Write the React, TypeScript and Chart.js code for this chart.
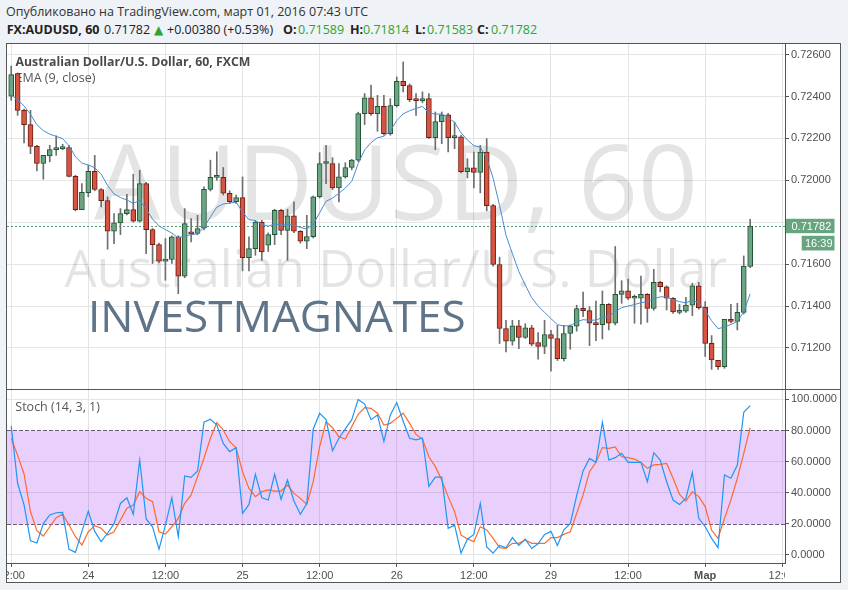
import React, { useEffect, useRef } from 'react';
import { Chart, registerables } from 'chart.js';
Chart.register(...registerables);

// ---- data (hourly bars, index 0 = 23 Feb 12:00, weekend compressed) ----
const OPEN = [
  0.72402, 0.72509, 0.72334, 0.72266, 0.72162, 0.72080, 0.72116, 0.72146, 0.72151, 0.72156,
  0.72019, 0.71860, 0.71941, 0.72043, 0.71956, 0.71903, 0.71757, 0.71797, 0.71841, 0.71860,
  0.71805, 0.71984, 0.71765, 0.71693, 0.71614, 0.71622, 0.71730, 0.71542, 0.71749, 0.71746,
  0.71771, 0.71957, 0.72014, 0.72014, 0.71938, 0.71898, 0.71917, 0.71631, 0.71674, 0.71801,
  0.71690, 0.71741, 0.71857, 0.71761, 0.71831, 0.71757, 0.71709, 0.71731, 0.71921, 0.72080,
  0.72080, 0.71964, 0.72016, 0.72061, 0.72096, 0.72318, 0.72394, 0.72318, 0.72353, 0.72223,
  0.72356, 0.72472, 0.72452, 0.72385, 0.72380, 0.72390, 0.72204, 0.72280, 0.72313, 0.72204,
  0.72208, 0.72041, 0.72060, 0.72037, 0.72135, 0.71879, 0.71598, 0.71293, 0.71232, 0.71305,
  0.71250, 0.71296, 0.71226, 0.71207, 0.71264, 0.71245, 0.71149, 0.71269, 0.71304, 0.71389,
  0.71378, 0.71318, 0.71311, 0.71408, 0.71318, 0.71456, 0.71472, 0.71437, 0.71437, 0.71456,
  0.71389, 0.71513, 0.71492, 0.71437, 0.71370, 0.71375, 0.71404, 0.71496, 0.71395, 0.71222,
  0.71141, 0.71111, 0.71337, 0.71326, 0.71370, 0.71589,
];
const HIGH = [
  0.72545, 0.72512, 0.72340, 0.72334, 0.72167, 0.72119, 0.72167, 0.72212, 0.72172, 0.72167,
  0.72024, 0.71984, 0.72072, 0.72119, 0.71960, 0.71921, 0.71841, 0.71865, 0.71933, 0.72029,
  0.72048, 0.71990, 0.71770, 0.71700, 0.71722, 0.71735, 0.71735, 0.71865, 0.71817, 0.71833,
  0.71969, 0.72096, 0.72136, 0.72061, 0.71950, 0.71930, 0.72016, 0.71730, 0.71809, 0.71809,
  0.71749, 0.71862, 0.71862, 0.71862, 0.71897, 0.71760, 0.71833, 0.71925, 0.72132, 0.72167,
  0.72108, 0.72080, 0.72084, 0.72100, 0.72325, 0.72414, 0.72454, 0.72405, 0.72405, 0.72390,
  0.72493, 0.72565, 0.72460, 0.72414, 0.72422, 0.72414, 0.72326, 0.72326, 0.72320, 0.72278,
  0.72215, 0.72103, 0.72135, 0.72167, 0.72199, 0.71885, 0.71633, 0.71332, 0.71332, 0.71332,
  0.71316, 0.71308, 0.71273, 0.71332, 0.71284, 0.71308, 0.71308, 0.71310, 0.71404, 0.71466,
  0.71397, 0.71424, 0.71472, 0.71412, 0.71684, 0.71521, 0.71529, 0.71453, 0.71543, 0.71460,
  0.71575, 0.71518, 0.71497, 0.71440, 0.71408, 0.71441, 0.71509, 0.71513, 0.71421, 0.71259,
  0.71141, 0.71337, 0.71408, 0.71413, 0.71639, 0.71814,
];
const LOW = [
  0.72382, 0.72310, 0.72178, 0.72127, 0.72045, 0.72005, 0.72088, 0.72119, 0.72146, 0.72016,
  0.71854, 0.71860, 0.71921, 0.71950, 0.71873, 0.71671, 0.71698, 0.71741, 0.71835, 0.71800,
  0.71800, 0.71650, 0.71603, 0.71606, 0.71523, 0.71603, 0.71459, 0.71535, 0.71706, 0.71740,
  0.71763, 0.71949, 0.72000, 0.71930, 0.71890, 0.71890, 0.71568, 0.71568, 0.71642, 0.71618,
  0.71660, 0.71693, 0.71740, 0.71618, 0.71750, 0.71700, 0.71674, 0.71725, 0.71915, 0.71984,
  0.71955, 0.71897, 0.72010, 0.72050, 0.72090, 0.72266, 0.72310, 0.72234, 0.72215, 0.72215,
  0.72350, 0.72422, 0.72375, 0.72310, 0.72370, 0.72200, 0.72146, 0.72175, 0.72135, 0.72151,
  0.72035, 0.72011, 0.71964, 0.71940, 0.71854, 0.71590, 0.71221, 0.71181, 0.71213, 0.71197,
  0.71245, 0.71210, 0.71146, 0.71173, 0.71089, 0.71140, 0.71138, 0.71194, 0.71280, 0.71349,
  0.71211, 0.71235, 0.71243, 0.71286, 0.71310, 0.71413, 0.71430, 0.71318, 0.71313, 0.71322,
  0.71380, 0.71468, 0.71381, 0.71365, 0.71362, 0.71370, 0.71354, 0.71385, 0.71159, 0.71098,
  0.71098, 0.71103, 0.71320, 0.71286, 0.71362, 0.71583,
];
const CLOSE = [
  0.72504, 0.72334, 0.72266, 0.72162, 0.72080, 0.72119, 0.72146, 0.72151, 0.72156, 0.72019,
  0.71860, 0.71943, 0.72043, 0.71956, 0.71903, 0.71757, 0.71797, 0.71841, 0.71860, 0.71805,
  0.71984, 0.71765, 0.71693, 0.71614, 0.71622, 0.71730, 0.71542, 0.71793, 0.71744, 0.71770,
  0.71957, 0.72014, 0.72016, 0.71938, 0.71898, 0.71917, 0.71631, 0.71674, 0.71801, 0.71658,
  0.71741, 0.71857, 0.71761, 0.71831, 0.71757, 0.71709, 0.71731, 0.71921, 0.72080, 0.72082,
  0.71964, 0.72016, 0.72061, 0.72096, 0.72318, 0.72394, 0.72318, 0.72353, 0.72223, 0.72356,
  0.72472, 0.72452, 0.72385, 0.72380, 0.72390, 0.72204, 0.72280, 0.72313, 0.72204, 0.72208,
  0.72041, 0.72060, 0.72037, 0.72135, 0.71879, 0.71598, 0.71293, 0.71232, 0.71305, 0.71250,
  0.71296, 0.71218, 0.71207, 0.71264, 0.71245, 0.71149, 0.71269, 0.71304, 0.71388, 0.71378,
  0.71318, 0.71311, 0.71408, 0.71318, 0.71456, 0.71472, 0.71437, 0.71441, 0.71456, 0.71389,
  0.71513, 0.71492, 0.71437, 0.71372, 0.71375, 0.71404, 0.71496, 0.71392, 0.71222, 0.71143,
  0.71111, 0.71337, 0.71326, 0.71370, 0.71591, 0.71782,
];
const EMA9 = [
  0.72406, 0.72385, 0.72355, 0.72315, 0.72265, 0.72237, 0.72220, 0.72210, 0.72199, 0.72165,
  0.72112, 0.72082, 0.72073, 0.72060, 0.72030, 0.71975, 0.71935, 0.71918, 0.71906, 0.71890,
  0.71905, 0.71862, 0.71815, 0.71782, 0.71765, 0.71748, 0.71725, 0.71735, 0.71740, 0.71745,
  0.71775, 0.71825, 0.71872, 0.71887, 0.71891, 0.71896, 0.71848, 0.71812, 0.71808, 0.71790,
  0.71781, 0.71792, 0.71787, 0.71790, 0.71785, 0.71775, 0.71768, 0.71790, 0.71845, 0.71900,
  0.71915, 0.71938, 0.71963, 0.71995, 0.72080, 0.72145, 0.72180, 0.72203, 0.72210, 0.72236,
  0.72285, 0.72317, 0.72332, 0.72343, 0.72353, 0.72321, 0.72316, 0.72316, 0.72300, 0.72276,
  0.72227, 0.72192, 0.72165, 0.72158, 0.72106, 0.72010, 0.71880, 0.71738, 0.71650, 0.71565,
  0.71500, 0.71440, 0.71400, 0.71370, 0.71340, 0.71311, 0.71305, 0.71306, 0.71325, 0.71335,
  0.71332, 0.71333, 0.71346, 0.71350, 0.71375, 0.71392, 0.71400, 0.71407, 0.71416, 0.71420,
  0.71435, 0.71444, 0.71443, 0.71430, 0.71421, 0.71415, 0.71427, 0.71415, 0.71378, 0.71330,
  0.71292, 0.71300, 0.71312, 0.71326, 0.71372, 0.71458,
];
const STOCH_K = [
  83, 46, 32, 9, 7.5, 20, 25.6, 27, 27.3, 3.5,
  1.5, 15, 28, 15, 8.4, 13.8, 20, 33, 36.7, 26,
  61, 23, 18, 3.5, 19, 36.7, 11.6, 50.7, 49.8, 53.9,
  85.3, 87.2, 83.5, 71.7, 66.4, 68.9, 26.6, 32.4, 51.8, 36.7,
  35.2, 51.8, 35.7, 48.1, 34.6, 26, 33, 81, 91, 87,
  67, 75, 81, 87, 100, 97, 87, 90, 73, 90,
  98, 86, 75, 74, 75, 44, 50, 50, 17, 19,
  1, 10, 13, 33, 5, 1, 6, 4.5, 11, 6,
  10, 4, 7, 13, 15, 6, 16, 20, 38, 54,
  62, 59.5, 85.3, 61, 62.5, 65.3, 59.5, 59.5, 59.5, 47,
  65.7, 61, 47, 35.2, 32.4, 36.3, 53, 23.4, 18, 10.5,
  4.5, 51.3, 49.2, 57.8, 91.7, 96,
];
const STOCH_D = [
  75, 64, 52, 27.7, 15.5, 12, 18, 23.8, 26, 19.1,
  11.6, 6.2, 14.8, 18.7, 17, 12.7, 14.8, 22.3, 29.9, 32,
  40.6, 36.3, 34.2, 14.8, 13.3, 18, 23.4, 33.1, 38.5, 50.3,
  62.1, 75, 85, 80.3, 72.8, 68.9, 53.5, 42.7, 37.4, 40.6,
  41.7, 41, 41, 44.9, 39.5, 36.3, 32.4, 47, 69.6, 85.7,
  81.8, 76, 74.5, 82.5, 90.4, 94.7, 94.3, 91.1, 83.5, 84.6,
  87.8, 91.1, 84.6, 77.5, 74.5, 63.1, 56.7, 48.1, 37.4, 27.7,
  12.7, 10.1, 8.4, 18, 15.9, 10.5, 4.5, 4.1, 7.3, 7.3,
  9.5, 7.3, 7.3, 7.3, 11, 11, 13.1, 14.8, 26.6, 38.5,
  53.5, 59.5, 69, 68.5, 69.4, 63.1, 62.5, 61.6, 59.5, 55.6,
  57.8, 58.2, 58.8, 49.2, 38.9, 34.6, 40.6, 37.4, 31, 15.9,
  10.5, 23.4, 35.2, 49.2, 65.3, 81.8,
];
const PRICE_TICKS = [0.712, 0.714, 0.716, 0.718, 0.72, 0.722, 0.724, 0.726];
const STOCH_TICKS = [0, 20, 40, 60, 80, 100];
const TIME_TICK_INDEX = [0, 12, 24, 36, 48, 60, 72, 84, 96, 108, 120];
const TIME_TICK_LABELS = ['12:00', '24', '12:00', '25', '12:00', '26', '12:00', '29', '12:00', 'Мар', '12:00'];
const LAST_PRICE = 0.71782;
const LAST_PRICE_LABEL = '0.71782';
const COUNTDOWN_LABEL = '16:39';

// ---- styling ----
const BG = '#eff2f6';
const GRID = '#e4e4e4';
const AXIS = '#555555';
const LABEL = '#4f4f4f';
const UP_FILL = '#6ba583';
const UP_LINE = '#225437';
const DOWN_FILL = '#d75442';
const DOWN_LINE = '#6b1f15';
const WICK = '#6f6f6f';
const GREEN_TXT = '#2ea52e';
const X_MIN = -0.654;
const X_MAX = 120.42;
const P_MIN = 0.710041;
const P_MAX = 0.726504;
const S_MIN = -5.35;
const S_MAX = 106.08;
const TICK_FONT = '"Liberation Sans", Arial, sans-serif';

function xScale(withTicks: boolean) {
  return {
    type: 'linear' as const,
    min: X_MIN,
    max: X_MAX,
    offset: false,
    afterBuildTicks: (s: any) => {
      s.ticks = TIME_TICK_INDEX.map((v) => ({ value: v }));
    },
    ticks: { display: false },
    grid: { color: GRID, offset: false, drawTicks: withTicks, tickLength: 4, tickColor: AXIS, lineWidth: 1 },
    border: { display: false },
    afterFit: (s: any) => {
      s.height = withTicks ? 20 : 0;
      s.paddingLeft = 0;
      s.paddingRight = 0;
    },
  };
}

export default function App() {
  const priceRef = useRef<HTMLCanvasElement>(null);
  const stochRef = useRef<HTMLCanvasElement>(null);

  useEffect(() => {
    document.body.style.margin = '0';
    document.body.style.background = BG;
    const charts: Chart[] = [];

    const priceDecor = {
      id: 'priceDecor',
      beforeDatasetsDraw(chart: any) {
        const { ctx, chartArea: ca } = chart;
        const cx = (ca.left + ca.right) / 2;
        ctx.save();
        ctx.beginPath();
        ctx.rect(ca.left, ca.top, ca.right - ca.left, ca.bottom - ca.top);
        ctx.clip();
        ctx.fillStyle = 'rgba(0,0,0,0.105)';
        ctx.textAlign = 'center';
        ctx.textBaseline = 'alphabetic';
        ctx.font = '105px "Open Sans"';
        ctx.fillText('AUDUSD, 60', cx, 220 - 44);
        ctx.font = '51px "Open Sans"';
        ctx.fillText('Australian Dollar/U.S. Dollar', cx, 287 - 44);
        ctx.textAlign = 'left';
        ctx.fillStyle = '#5e7489';
        ctx.font = '44px "Open Sans"';
        ctx.fillText('INVESTMAGNATES', 88 - 7, 332 - 44);
        ctx.fillStyle = '#4a4a4a';
        ctx.font = 'bold 12.3px "Open Sans"';
        ctx.fillText('Australian Dollar/U.S. Dollar, 60, FXCM', 15.5 - 7, 65.5 - 44);
        ctx.fillStyle = '#555';
        ctx.font = '12.5px "Open Sans"';
        ctx.fillText('EMA (9, close)', 15.5 - 7, 81.7 - 44);
        const yc = Math.round(chart.scales.y.getPixelForValue(LAST_PRICE)) + 0.5;
        ctx.strokeStyle = '#4f9a70';
        ctx.lineWidth = 1;
        ctx.setLineDash([2, 2]);
        ctx.beginPath();
        ctx.moveTo(ca.left, yc);
        ctx.lineTo(ca.right, yc);
        ctx.stroke();
        ctx.restore();
      },
      afterDraw(chart: any) {
        const { ctx, chartArea: ca } = chart;
        const yc = chart.scales.y.getPixelForValue(LAST_PRICE);
        ctx.save();
        ctx.fillStyle = '#66a57f';
        ctx.fillRect(ca.right + 1, yc - 7.2, 48.5, 14.4);
        ctx.fillRect(ca.right + 16.7, yc + 9.8, 32.8, 14.7);
        ctx.fillStyle = '#ffffff';
        ctx.font = '11px ' + TICK_FONT;
        ctx.textAlign = 'left';
        ctx.textBaseline = 'middle';
        ctx.fillText(LAST_PRICE_LABEL, ca.right + 6.5, yc + 0.5);
        ctx.fillText(COUNTDOWN_LABEL, ca.right + 20, yc + 17.5);
        ctx.restore();
      },
    };

    const stochDecor = {
      id: 'stochDecor',
      beforeDatasetsDraw(chart: any) {
        const { ctx, chartArea: ca } = chart;
        const ys = chart.scales.y;
        const y80 = Math.round(ys.getPixelForValue(80)) + 0.5;
        const y20 = Math.round(ys.getPixelForValue(20)) + 0.5;
        ctx.save();
        ctx.fillStyle = 'rgba(151,37,242,0.22)';
        ctx.fillRect(ca.left, y80, ca.right - ca.left, y20 - y80);
        ctx.strokeStyle = '#6b5b78';
        ctx.lineWidth = 1;
        ctx.setLineDash([4, 2]);
        ctx.beginPath();
        ctx.moveTo(ca.left, y80);
        ctx.lineTo(ca.right, y80);
        ctx.moveTo(ca.left, y20);
        ctx.lineTo(ca.right, y20);
        ctx.stroke();
        ctx.setLineDash([]);
        ctx.fillStyle = '#555';
        ctx.font = '12.5px "Open Sans"';
        ctx.textAlign = 'left';
        ctx.textBaseline = 'alphabetic';
        ctx.fillText('Stoch (14, 3, 1)', 15.3 - 7, 411 - 390);
        ctx.restore();
      },
      afterDraw(chart: any) {
        const { ctx, chartArea: ca } = chart;
        const xs = chart.scales.x;
        ctx.save();
        ctx.beginPath();
        ctx.rect(ca.left, ca.bottom, ca.right - ca.left, 20);
        ctx.clip();
        ctx.fillStyle = LABEL;
        ctx.textAlign = 'center';
        ctx.textBaseline = 'alphabetic';
        TIME_TICK_INDEX.forEach((v, k) => {
          const lab = TIME_TICK_LABELS[k];
          ctx.font = (lab === 'Мар' ? 'bold ' : '') + '11px ' + TICK_FONT;
          ctx.fillText(lab, xs.getPixelForValue(v), ca.bottom + 15.5);
        });
        ctx.restore();
      },
    };

    const upDown = OPEN.map((o, i) => CLOSE[i] >= o);

    if (priceRef.current) {
      charts.push(
        new Chart(priceRef.current, {
          type: 'bar',
          data: {
            datasets: [
              {
                type: 'line',
                data: EMA9.map((y, i) => ({ x: i, y })),
                borderColor: '#4a8cd0',
                borderWidth: 1,
                pointRadius: 0,
                tension: 0,
                fill: false,
              } as any,
              {
                type: 'bar',
                data: OPEN.map((o, i) => ({ x: i, y: [o, CLOSE[i]] })),
                backgroundColor: upDown.map((u) => (u ? UP_FILL : DOWN_FILL)),
                borderColor: upDown.map((u) => (u ? UP_LINE : DOWN_LINE)),
                borderWidth: 1,
                borderSkipped: false,
                barThickness: 5,
                minBarLength: 2,
                grouped: false,
              } as any,
              {
                type: 'bar',
                data: LOW.map((l, i) => ({ x: i, y: [l, HIGH[i]] })),
                backgroundColor: WICK,
                borderWidth: 0,
                barThickness: 1,
                grouped: false,
              } as any,
            ],
          },
          options: {
            responsive: false,
            maintainAspectRatio: false,
            animation: false,
            events: [],
            layout: { padding: 0 },
            plugins: { legend: { display: false }, tooltip: { enabled: false } },
            scales: {
              x: xScale(false) as any,
              y: {
                type: 'linear',
                position: 'right',
                min: P_MIN,
                max: P_MAX,
                beginAtZero: false,
                afterBuildTicks: (s: any) => {
                  s.ticks = PRICE_TICKS.map((v) => ({ value: v }));
                },
                ticks: {
                  // the label that sits under the last-price marker is hidden, as in the original
                  callback: (v: any) => (Math.abs(Number(v) - LAST_PRICE) < 0.0004 ? '' : Number(v).toFixed(5)),
                  font: { family: TICK_FONT, size: 11 },
                  color: LABEL,
                  padding: 2,
                },
                grid: { color: GRID, drawTicks: true, tickLength: 4, tickColor: AXIS },
                border: { display: false },
                afterFit: (s: any) => {
                  s.width = 56;
                  s.paddingTop = 0;
                  s.paddingBottom = 0;
                },
              } as any,
            },
          },
          plugins: [priceDecor],
        })
      );
    }

    if (stochRef.current) {
      charts.push(
        new Chart(stochRef.current, {
          type: 'line',
          data: {
            datasets: [
              {
                data: STOCH_K.map((y, i) => ({ x: i, y })),
                borderColor: '#2196f3',
                borderWidth: 1.2,
                pointRadius: 0,
                tension: 0,
                fill: false,
              },
              {
                data: STOCH_D.map((y, i) => ({ x: i, y })),
                borderColor: '#ff6a2b',
                borderWidth: 1.2,
                pointRadius: 0,
                tension: 0,
                fill: false,
              },
            ],
          },
          options: {
            responsive: false,
            maintainAspectRatio: false,
            animation: false,
            events: [],
            layout: { padding: 0 },
            plugins: { legend: { display: false }, tooltip: { enabled: false } },
            scales: {
              x: xScale(true) as any,
              y: {
                type: 'linear',
                position: 'right',
                min: S_MIN,
                max: S_MAX,
                afterBuildTicks: (s: any) => {
                  s.ticks = STOCH_TICKS.map((v) => ({ value: v }));
                },
                ticks: {
                  callback: (v: any) => Number(v).toFixed(4),
                  font: { family: TICK_FONT, size: 11 },
                  color: LABEL,
                  padding: 2,
                },
                grid: {
                  color: (c: any) =>
                    c.tick && (c.tick.value === 20 || c.tick.value === 80) ? 'rgba(0,0,0,0)' : GRID,
                  drawTicks: true,
                  tickLength: 4,
                  tickColor: AXIS,
                },
                border: { display: false },
                afterFit: (s: any) => {
                  s.width = 56;
                  s.paddingTop = 0;
                  s.paddingBottom = 0;
                },
              } as any,
            },
          },
          plugins: [stochDecor],
        })
      );
    }

    return () => {
      charts.forEach((c) => c.destroy());
    };
  }, []);

  const abs = (l: number, t: number, w: number, h: number, extra: any = {}) => ({
    position: 'absolute' as const,
    left: l,
    top: t,
    width: w,
    height: h,
    ...extra,
  });

  const hdr: any = {
    position: 'absolute',
    top: 21.5,
    fontFamily: '"Open Sans", sans-serif',
    fontSize: 12.5,
    lineHeight: '16px',
    whiteSpace: 'nowrap',
    color: '#222',
  };

  return (
    <div style={{ position: 'relative', width: 848, height: 590, background: BG, overflow: 'hidden' }}>
      <div
        style={{
          position: 'absolute',
          left: 6,
          top: 3.5,
          fontFamily: '"Open Sans", sans-serif',
          fontSize: 12.5,
          lineHeight: '16px',
          color: '#333',
          whiteSpace: 'nowrap',
        }}
      >
        Опубликовано на TradingView.com, март 01, 2016 07:43 UTC
      </div>
      <div style={{ ...hdr, left: 6.7, fontWeight: 'bold' }}>FX:AUDUSD, 60</div>
      <div style={{ ...hdr, left: 104 }}>0.71782</div>
      <div style={{ ...hdr, left: 154, color: GREEN_TXT, fontFamily: '"DejaVu Sans", sans-serif', fontSize: 12 }}>▲</div>
      <div style={{ ...hdr, left: 167 }}>+0.00380 (+0.53%)</div>
      <div style={{ ...hdr, left: 283, fontWeight: 'bold' }}>O:</div>
      <div style={{ ...hdr, left: 298, color: GREEN_TXT }}>0.71589</div>
      <div style={{ ...hdr, left: 350, fontWeight: 'bold' }}>H:</div>
      <div style={{ ...hdr, left: 363, color: GREEN_TXT }}>0.71814</div>
      <div style={{ ...hdr, left: 415, fontWeight: 'bold' }}>L:</div>
      <div style={{ ...hdr, left: 427, color: GREEN_TXT }}>0.71583</div>
      <div style={{ ...hdr, left: 477, fontWeight: 'bold' }}>C:</div>
      <div style={{ ...hdr, left: 491, color: GREEN_TXT }}>0.71782</div>

      <div style={abs(6, 43, 835, 540, { background: '#ffffff' })} />
      <canvas ref={priceRef} width={834} height={345} style={abs(7, 44, 834, 345)} />
      <canvas ref={stochRef} width={834} height={193} style={abs(7, 390, 834, 193)} />
      <div style={abs(6, 43, 835, 540, { border: '1px solid ' + AXIS, boxSizing: 'border-box', pointerEvents: 'none' })} />
      <div style={abs(6, 389, 835, 1, { background: AXIS })} />
      <div style={abs(785, 43, 1, 520, { background: AXIS })} />
      <div style={abs(6, 563, 780, 1, { background: AXIS })} />
    </div>
  );
}
